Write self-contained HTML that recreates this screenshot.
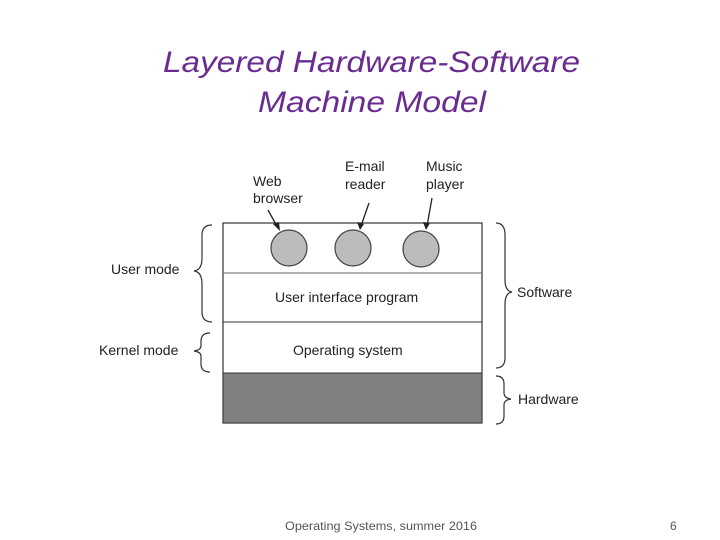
<!DOCTYPE html>
<html><head><meta charset="utf-8"><style>body{margin:0;background:#fff}svg{display:block}</style></head>
<body>
<svg width="720" height="540" viewBox="0 0 720 540" xmlns="http://www.w3.org/2000/svg">
<g font-family="Liberation Sans, sans-serif" font-style="italic" fill="#6a2c91" font-size="30">
<text x="163" y="72" textLength="417" lengthAdjust="spacingAndGlyphs">Layered  Hardware-Software</text>
<text x="258" y="112" textLength="228" lengthAdjust="spacingAndGlyphs">Machine Model</text>
</g>
<rect x="223" y="223" width="259" height="200" fill="#fff" stroke="#333" stroke-width="1.2"/>
<line x1="223" y1="273" x2="482" y2="273" stroke="#666"/>
<line x1="223" y1="322" x2="482" y2="322" stroke="#333"/>
<rect x="223" y="373" width="259" height="50" fill="#808080" stroke="#333"/>
<g fill="#bcbcbc" stroke="#444" stroke-width="1.2">
<circle cx="289" cy="248" r="18"/><circle cx="353" cy="248" r="18"/><circle cx="421" cy="249" r="18"/>
</g>
<g stroke="#222" stroke-width="1.3" fill="none">
<line x1="268" y1="210" x2="278" y2="228"/>
<line x1="369" y1="203" x2="361" y2="226"/>
<line x1="432" y1="198" x2="427" y2="226"/>
</g>
<g fill="#222">
<polygon points="280,231 273,224 279,222"/>
<polygon points="360,230 357,222 364,224"/>
<polygon points="426,230 423,222 430,223"/>
</g>
<g stroke="#333" stroke-width="1.2" fill="none">
<path d="M212,225 Q202,225 202,235 L202,258 Q202,270 194,271 Q202,272 202,284 L202,312 Q202,322 212,322"/>
<path d="M210,333 Q201,333 201,341 L201,346 Q201,350 194,351 Q201,352 201,356 L201,364 Q201,372 210,372"/>
<path d="M496,223 Q505,223 505,235 L505,280 Q505,291 512,292 Q505,293 505,304 L505,358 Q505,368 496,368"/>
<path d="M496,376 Q504,376 504,384 L504,393 Q504,398 511,399 Q504,400 504,405 L504,416 Q504,424 496,424"/>
</g>
<g font-family="Liberation Sans, sans-serif" font-size="14" fill="#222">
<text x="253" y="186">Web</text><text x="253" y="203">browser</text>
<text x="345" y="171">E-mail</text><text x="345" y="189">reader</text>
<text x="426" y="171">Music</text><text x="426" y="189">player</text>
<text x="111" y="274">User mode</text>
<text x="99" y="355">Kernel mode</text>
<text x="275" y="302">User interface program</text>
<text x="293" y="355">Operating system</text>
<text x="517" y="297">Software</text>
<text x="518" y="404">Hardware</text>
</g>
<g font-family="Liberation Sans, sans-serif" font-size="12" fill="#555">
<text x="285" y="530" textLength="192" lengthAdjust="spacingAndGlyphs">Operating Systems, summer 2016</text>
<text x="670" y="530">6</text>
</g>
</svg>
</body></html>
